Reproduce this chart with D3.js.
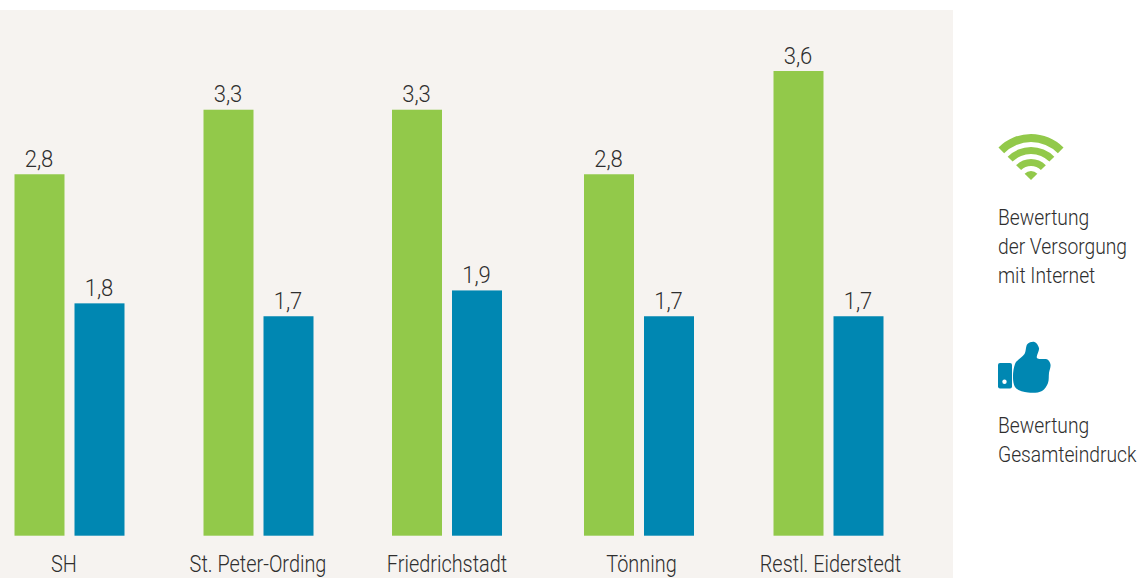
<!DOCTYPE html>
<html>
<head>
<meta charset="utf-8">
<script src="https://cdn.jsdelivr.net/npm/d3@7"></script>
<style>
  body { margin: 0; background: #fff; }
  text { font-family: Roboto, "Liberation Sans", sans-serif; font-weight: 300; fill: #2e2e2e; }
</style>
</head>
<body>
<svg id="chart"></svg>
<script>
const categories = ["SH", "St. Peter-Ording", "Friedrichstadt", "Tönning", "Restl. Eiderstedt"];
const internet = [2.8, 3.3, 3.3, 2.8, 3.6];
const gesamt = [1.8, 1.7, 1.9, 1.7, 1.7];
const seriesNames = ["internet", "gesamt"];
const legendInternet = ["Bewertung", "der Versorgung", "mit Internet"];
const legendGesamt = ["Bewertung", "Gesamteindruck"];

const width = 1142, height = 578;
const green = "#92c94a", blue = "#0087b2";
// no condensed font installed, so squeeze the text
const narrowValue = 0.92, narrowAxis = 0.865, narrowLegend = 0.875;

const svg = d3.select("#chart").attr("width", width).attr("height", height).style("display", "block");

// panel behind the bars
svg.append("rect").attr("x", 0).attr("y", 10).attr("width", 953).attr("height", 568).attr("fill", "#f6f3f0");

// groups are not quite evenly spaced in the original
const x = d3.scaleOrdinal(categories, [69.5, 258.5, 447, 639, 828.5]);
const xLabel = d3.scaleOrdinal(categories, [63.5, 257.5, 446.5, 641, 830]);
const xInner = d3.scaleBand(seriesNames, [-55, 55]).paddingInner(1 / 6);
const y = d3.scaleLinear([0, 3.6], [535.7, 71]);
const color = d3.scaleOrdinal(seriesNames, [green, blue]);
const fmt = d3.formatLocale({ decimal: ",", thousands: ".", grouping: [3], currency: ["", "€"] }).format(".1f");

const rows = categories.flatMap((c, i) => [
  { cat: c, key: "internet", value: internet[i] },
  { cat: c, key: "gesamt", value: gesamt[i] }
]);

svg.append("g").selectAll("rect").data(rows).join("rect")
  .attr("x", d => x(d.cat) + xInner(d.key))
  .attr("y", d => y(d.value))
  .attr("width", xInner.bandwidth())
  .attr("height", d => y(0) - y(d.value))
  .attr("fill", d => color(d.key));

svg.append("g").selectAll("text").data(rows).join("text")
  .attr("transform", d => `translate(${x(d.cat) + xInner(d.key) + xInner.bandwidth() / 2 - 0.5},${y(d.value) - 7.5}) scale(${narrowValue},1)`)
  .attr("text-anchor", "middle")
  .attr("font-size", 24)
  .text(d => fmt(d.value));

// category labels
const axis = svg.append("g").attr("transform", "translate(0,572)")
  .call(d3.axisBottom(xLabel).tickValues(categories).tickSize(0).tickPadding(0));
axis.attr("font-family", null).attr("font-size", null);
axis.select(".domain").remove();
axis.selectAll("text")
  .attr("y", 0).attr("dy", 0)
  .attr("font-size", 23)
  .attr("fill", null)
  .attr("transform", `scale(${narrowAxis},1)`);

// legend: wifi icon
const wifi = svg.append("g").attr("transform", "translate(1031,180)").attr("fill", green);
[[38, 46], [26, 33], [14, 21], [0, 9]].forEach(([r0, r1]) => {
  wifi.append("path").attr("d", d3.arc()({
    innerRadius: r0, outerRadius: r1, startAngle: -Math.PI / 4, endAngle: Math.PI / 4
  }));
});

// legend: thumb icon
const thumb = svg.append("g").attr("fill", blue);
thumb.append("rect").attr("x", 998).attr("y", 363).attr("width", 14).attr("height", 25.5).attr("rx", 2);
thumb.append("circle").attr("cx", 1004.5).attr("cy", 381.7).attr("r", 2.2).attr("fill", "#fff");
const hand = [[1015, 387], [1015, 364], [1024.5, 354], [1027.5, 344], [1034.5, 342], [1039, 348], [1037, 358],
  [1047.5, 359.5], [1050.5, 364.5], [1049, 373], [1048, 383], [1042, 391], [1028, 392.5]];
thumb.append("path").attr("d", d3.line().curve(d3.curveCatmullRomClosed.alpha(0.5))(hand));

function legendText(lines, top) {
  svg.append("g").selectAll("text").data(lines).join("text")
    .attr("transform", (d, i) => `translate(998,${top + i * 29}) scale(${narrowLegend},1)`)
    .attr("font-size", 22)
    .text(d => d);
}
legendText(legendInternet, 225);
legendText(legendGesamt, 433);
</script>
</body>
</html>
